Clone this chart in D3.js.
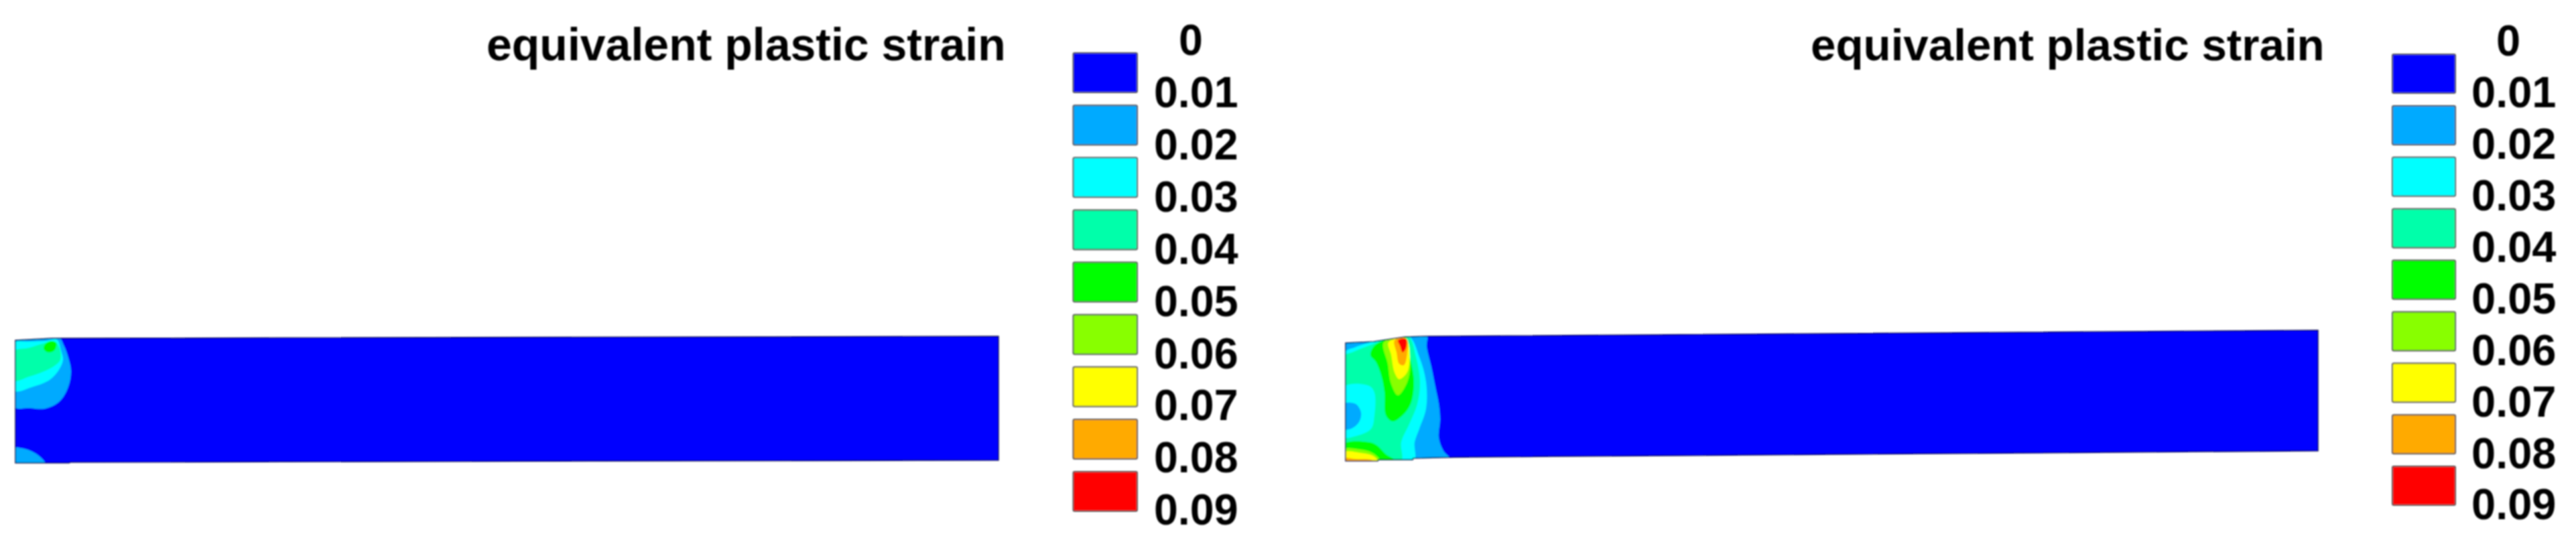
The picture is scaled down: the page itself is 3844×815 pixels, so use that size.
<!DOCTYPE html>
<html>
<head>
<meta charset="utf-8">
<script src="https://cdn.jsdelivr.net/npm/d3@7"></script>
<style>
html, body { margin: 0; padding: 0; background: #fff; overflow: hidden; }
text { font-family: "Liberation Sans", Arial, sans-serif; font-weight: bold; fill: #000; }
</style>
</head>
<body>
<script>
var titleText = 'equivalent plastic strain';
var levelLabels = ['0', '0.01', '0.02', '0.03', '0.04', '0.05', '0.06', '0.07', '0.08', '0.09'];
var bandColors = ['#0000ff', '#00aaff', '#00ffff', '#00ffaa', '#00ff00', '#88ff00', '#ffff00', '#ffaa00', '#ff0000'];

// Plate outlines, mesh units measured from the lower left corner
var plateA = [[0, 0], [80, 0], [82, 1], [1467, 4], [1467, 189], [55, 186], [0, 183]];
var plateB = [[0, 0], [48, 0], [49, 1.7], [100, 1.7], [101, 4], [162, 5.6], [1451, 15], [1451, 195], [120, 186], [88, 185], [42, 178], [0, 176]];

// Contours of the first plate
var a1Top = [[-3, 187], [65, 187], [72, 176], [79, 157], [83, 137], [79, 114], [66, 92], [44, 81], [21, 82], [-3, 84]];
var a1Bottom = [[-3, 22], [10, 22], [27, 16], [42, 4], [45, -3], [-3, -3]];
var a2 = [[-3, 179], [17, 181], [44, 182], [62, 184], [68, 168], [71, 154], [65, 139], [51, 124], [27, 114], [-3, 108]];
var a3 = [[-3, 166], [21, 172], [44, 179], [59, 181], [66, 171], [67, 154], [57, 144], [41, 136], [21, 129], [-3, 123]];
var a4 = [[42, 171], [46, 179], [55, 182], [61, 179], [59, 169], [52, 165], [46, 166]];

// Contours of the second plate
var b1 = [[-3, 192], [120, 192], [121, 170], [128, 140], [134, 110], [139, 85], [141, 62], [139, 35], [146, 15], [160, -2], [-3, -3]];
var b2 = [[-3, 160], [15, 170], [38, 177], [93, 187], [110, 155], [120, 118], [120, 78], [110, 48], [103, 28], [101, -2], [-3, -2]];
var b3 = [[-3, 155], [12, 163], [37, 173], [58, 180], [93, 186], [105, 155], [111, 118], [107, 85], [95, 55], [83, 28], [82, -2], [-3, -2]];
var b2Island = [[-3, 110], [35, 112], [43, 102], [43, 68], [38, 48], [15, 37], [-3, 36]];
var b1Island = [[-3, 85], [15, 85], [23, 72], [20, 58], [8, 48], [-3, 48]];
var b4Top = [[37, 158], [43, 172], [58, 180], [88, 186], [96, 155], [102, 118], [97, 85], [85, 68], [70, 59], [60, 68], [58, 102], [53, 128], [45, 148]];
var b4Bottom = [[-3, 25], [35, 28], [47, 23], [60, 10], [72, 2], [72, -2], [-3, -2]];
var b5Top = [[57, 177], [87, 183], [96, 145], [92, 118], [78, 98], [68, 115], [63, 145]];
var b5Bottom = [[-3, 17], [22, 17], [38, 13], [50, 3], [50, -2], [-3, -2]];
var b6Top = [[64, 177], [90, 182], [93, 135], [80, 122], [73, 132], [68, 158]];
var b6Bottom = [[-3, 13], [22, 12], [40, 8], [47, 2], [47, -2], [-3, -2]];
var b7Top = [[73, 180], [91, 182], [92, 162], [87, 143], [80, 145], [76, 162]];
var b7Bottom = [[-3, 4], [15, 3], [40, 1], [40, -3], [-3, -3]];
var b8 = [[78, 180], [90, 182], [90, 168], [85, 162], [81, 172]];

var width = 3844, height = 815;

var svg = d3.select('body').append('svg')
    .attr('width', width)
    .attr('height', height)
    .attr('viewBox', [0, 0, width, height]);

var defs = svg.append('defs');
defs.append('filter')
    .attr('id', 'soft')
    .attr('filterUnits', 'userSpaceOnUse')
    .attr('x', 0).attr('y', 0)
    .attr('width', width).attr('height', height)
  .append('feGaussianBlur')
    .attr('stdDeviation', 0.9);

var root = svg.append('g').attr('filter', 'url(#soft)');

function drawPanel(id, p)
{
    var g = root.append('g');

    var x = d3.scaleLinear().domain(p.meshX).range(p.plateX);
    var y = d3.scaleLinear().domain(p.meshY).range(p.plateY);

    var outline = d3.line()
        .x(function(d){ return x(d[0]); })
        .y(function(d){ return y(d[1]); });

    var contour = d3.line()
        .x(function(d){ return x(d[0]); })
        .y(function(d){ return y(d[1]); })
        .curve(d3.curveCatmullRomClosed.alpha(0.5));

    defs.append('clipPath')
        .attr('id', 'clip' + id)
      .append('path')
        .attr('d', outline(p.plate) + 'Z');

    //--------------------------------------------------------------
    // Plate and contour bands

    g.append('path')
        .attr('d', outline(p.plate) + 'Z')
        .attr('fill', bandColors[0]);

    g.append('g')
        .attr('clip-path', 'url(#clip' + id + ')')
      .selectAll('path')
        .data(p.contours)
        .enter()
      .append('path')
        .attr('d', function(d){ return contour(d.points); })
        .attr('fill', function(d){ return bandColors[d.band]; });

    g.append('path')
        .attr('d', outline(p.plate) + 'Z')
        .attr('fill', 'none')
        .attr('stroke', '#10104a')
        .attr('stroke-width', 1.5);

    //--------------------------------------------------------------
    // Title

    g.append('text')
        .attr('x', p.titleX)
        .attr('y', p.titleY)
        .attr('font-size', p.titleSize)
        .text(titleText);

    //--------------------------------------------------------------
    // Legend

    var swatchY = d3.scaleLinear().domain([0, 8]).range(p.swatchY);
    var labelY = d3.scaleLinear().domain([0, 9]).range(p.labelY);

    g.selectAll('rect')
        .data(bandColors)
        .enter()
      .append('rect')
        .attr('x', p.swatchX[0])
        .attr('y', function(d, i){ return swatchY(i); })
        .attr('width', p.swatchX[1] - p.swatchX[0])
        .attr('height', p.swatchH)
        .attr('rx', 2)
        .attr('fill', function(d){ return d; })
        .attr('stroke', '#555')
        .attr('stroke-width', 2);

    g.selectAll('text.level')
        .data(levelLabels)
        .enter()
      .append('text')
        .attr('class', 'level')
        .attr('x', function(d, i){ return i ? p.labelX : p.zeroX; })
        .attr('y', function(d, i){ return labelY(i); })
        .attr('dy', '0.36em')
        .attr('text-anchor', function(d, i){ return i ? 'start' : 'middle'; })
        .attr('font-size', p.labelSize)
        .text(function(d){ return d; });
}

drawPanel('A', {
    plate: plateA,
    meshX: [0, 1467], meshY: [0, 189],
    plateX: [23, 1490], plateY: [691, 502],
    contours: [
        {band: 1, points: a1Top}, {band: 1, points: a1Bottom},
        {band: 2, points: a2}, {band: 3, points: a3}, {band: 4, points: a4}
    ],
    titleX: 726, titleY: 90, titleSize: 68,
    swatchX: [1601.5, 1697], swatchY: [79, 704], swatchH: 59,
    labelX: 1722, zeroX: 1777, labelY: [59, 760], labelSize: 64.5
});

drawPanel('B', {
    plate: plateB,
    meshX: [0, 1451], meshY: [0, 195],
    plateX: [2008, 3459], plateY: [688, 493],
    contours: [
        {band: 1, points: b1}, {band: 2, points: b2}, {band: 3, points: b3},
        {band: 2, points: b2Island}, {band: 1, points: b1Island},
        {band: 4, points: b4Top}, {band: 4, points: b4Bottom},
        {band: 5, points: b5Top}, {band: 5, points: b5Bottom},
        {band: 6, points: b6Top}, {band: 6, points: b6Bottom},
        {band: 7, points: b7Top}, {band: 7, points: b7Bottom},
        {band: 8, points: b8}
    ],
    titleX: 2702, titleY: 90, titleSize: 67.3,
    swatchX: [3570, 3664], swatchY: [81, 696], swatchH: 58,
    labelX: 3688, zeroX: 3743, labelY: [60, 752], labelSize: 65
});
</script>
</body>
</html>
